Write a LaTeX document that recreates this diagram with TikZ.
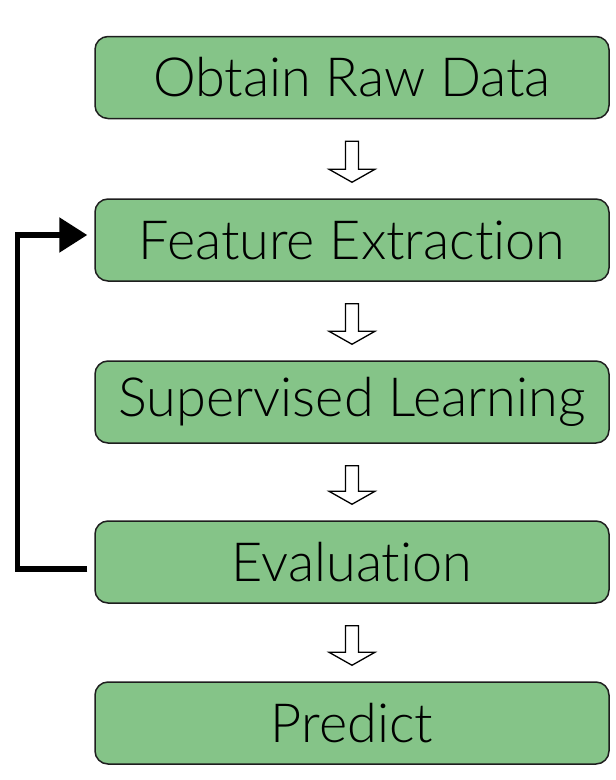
\documentclass[tikz,border=0pt]{standalone}
\usepackage{fontspec}
\setmainfont{Lato}[UprightFont=* Light, Ligatures=NoCommon, RawFeature=-liga;-dlig]
\usetikzlibrary{calc,arrows.meta}
\definecolor{boxgreen}{RGB}{133,196,136}
\definecolor{boxline}{RGB}{30,30,30}
\tikzset{
  stepbox/.style={draw=boxline, fill=boxgreen, line width=1.5pt, rounded corners=13pt,
    minimum width=514pt, minimum height=82pt, inner sep=0pt,
    font=\fontsize{54}{60}\selectfont},
  hollowarrow/.style={draw=black, fill=white, line width=1.3pt, line join=miter},
  feedback/.style={draw=black, line width=5.5pt, line join=miter,
    -{Triangle[length=28pt, width=34pt]}}
}
\newcommand{\blockarrow}[2]{%
  \draw[hollowarrow] ($(#1.south)+(-6.5,22)$) -- ($(#1.south)+(6.5,22)$)
    -- ($(#2.north)+(6.5,-29)$) -- ($(#2.north)+(23,-29)$)
    -- ($(#2.north)+(0,-16)$) -- ($(#2.north)+(-23,-29)$)
    -- ($(#2.north)+(-6.5,-29)$) -- cycle;}
\begin{document}
\begin{tikzpicture}[x=1pt,y=-1pt]
\useasboundingbox (0,0) rectangle (616,780);
\node[stepbox] (obtain) at (352,77.5) {Obtain Raw Data};
\node[stepbox] (feat) at (352,240) {Feature Extraction};
\node[stepbox] (sup) at (352,402) {Supervised Learning};
\node[stepbox] (eval) at (352,562) {Evaluation};
\node[stepbox] (pred) at (352,723) {Predict};
\blockarrow{obtain}{feat}
\blockarrow{feat}{sup}
\blockarrow{sup}{eval}
\blockarrow{eval}{pred}
\draw[feedback] ($(eval.west)+(-7,7)$) -- ++(-70,0) |- ($(feat.west)+(-7,-5)$);
\end{tikzpicture}
\end{document}
